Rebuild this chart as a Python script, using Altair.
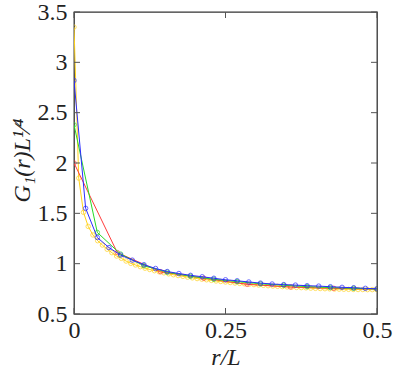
import altair as alt
import pandas as pd

# System sizes and the correlation G1(r) L^{1/4} sampled at r = 0 .. L/2
sizes = [14, 26, 52, 128]
series_names = ["L=14", "L=26", "L=52", "L=128"]
series_colors = ["#ff3b3b", "#27d827", "#2b2bff", "#ffd21a"]

g_L14 = [2.00, 1.11, 0.92, 0.855, 0.795, 0.768, 0.755, 0.748]

g_L26 = [2.38, 1.31, 1.095, 0.98, 0.915, 0.875, 0.845, 0.822, 0.800,
         0.785, 0.772, 0.762, 0.755, 0.748]

g_L52 = [2.82, 1.55, 1.26, 1.16, 1.085, 1.035, 0.99, 0.952, 0.922, 0.902,
         0.884, 0.870, 0.855, 0.840, 0.830, 0.818, 0.807, 0.798, 0.792,
         0.787, 0.781, 0.777, 0.771, 0.765, 0.761, 0.755, 0.750]

g_L128 = [3.35, 1.85, 1.51, 1.37, 1.285, 1.228, 1.185, 1.143, 1.109, 1.076,
          1.053, 1.026, 1.003, 0.987, 0.970, 0.955, 0.942, 0.930, 0.919,
          0.909, 0.899, 0.890, 0.882, 0.874, 0.866, 0.859, 0.852, 0.846,
          0.840, 0.834, 0.828, 0.823, 0.818, 0.813, 0.808, 0.804, 0.800,
          0.796, 0.792, 0.788, 0.785, 0.781, 0.778, 0.775, 0.772, 0.769,
          0.767, 0.764, 0.762, 0.760, 0.757, 0.755, 0.753, 0.751, 0.750,
          0.748, 0.747, 0.746, 0.745, 0.744, 0.743, 0.743, 0.742, 0.742,
          0.741]

x_ticks = [0, 0.25, 0.5]
y_ticks = [0.5, 1, 1.5, 2, 2.5, 3, 3.5]

W, H = 303, 302
FONT = "Liberation Serif"
TICK_LEN = 6

x_scale = alt.Scale(domain=[0, 0.5], nice=False, zero=False)
y_scale = alt.Scale(domain=[0.5, 3.5], nice=False, zero=False)

x_axis = alt.Axis(values=x_ticks, labelExpr="toString(datum.value)",
                  labelPadding=4,
                  title="r/L", titleBaseline="alphabetic", titleY=50)
y_axis = alt.Axis(values=y_ticks, labelExpr="toString(datum.value)",
                  labelPadding=7,
                  title="G₁(r)L¹⁄⁴", titleAngle=270,
                  titleBaseline="alphabetic", titleAlign="center",
                  titleX=-45, titleY=148)

layers = []
# largest system first so the smaller ones sit on top of its dense markers
order = [3, 0, 1, 2]
all_values = [g_L14, g_L26, g_L52, g_L128]
for k in order:
    L = sizes[k]
    vals = all_values[k]
    df = pd.DataFrame({"x": [r / L for r in range(len(vals))], "y": vals})
    base = alt.Chart(df).encode(
        x=alt.X("x:Q", scale=x_scale, axis=x_axis),
        y=alt.Y("y:Q", scale=y_scale, axis=y_axis),
    )
    line = base.mark_line(color=series_colors[k], strokeWidth=1, clip=True)
    pts = base.mark_point(shape="circle", filled=False, size=20,
                          color=series_colors[k], strokeWidth=1, clip=True)
    layers += [line, pts]

# inward tick marks on all four sides of the frame
xt = pd.DataFrame({"x": x_ticks})
yt = pd.DataFrame({"y": y_ticks})
tick_color = "#555"
ticks_bottom = alt.Chart(xt).mark_rule(color=tick_color, strokeWidth=1).encode(
    x=alt.X("x:Q", scale=x_scale, axis=x_axis), y=alt.value(H), y2=alt.value(H - TICK_LEN))
ticks_top = alt.Chart(xt).mark_rule(color=tick_color, strokeWidth=1).encode(
    x=alt.X("x:Q", scale=x_scale, axis=x_axis), y=alt.value(0), y2=alt.value(TICK_LEN))
ticks_left = alt.Chart(yt).mark_rule(color=tick_color, strokeWidth=1).encode(
    y=alt.Y("y:Q", scale=y_scale, axis=y_axis), x=alt.value(0), x2=alt.value(TICK_LEN))
ticks_right = alt.Chart(yt).mark_rule(color=tick_color, strokeWidth=1).encode(
    y=alt.Y("y:Q", scale=y_scale, axis=y_axis), x=alt.value(W), x2=alt.value(W - TICK_LEN))

chart = alt.layer(*layers, ticks_bottom, ticks_top, ticks_left, ticks_right).properties(
    width=W, height=H,
    autosize=alt.AutoSizeParams(type="none"),
    padding={"left": 74, "top": 12, "right": 30, "bottom": 59},
    background="white",
).configure_view(
    stroke="#333", strokeWidth=1.3
).configure_axis(
    ticks=False, domain=False, grid=False, labelFlush=False,
    labelFont=FONT, labelFontSize=24, labelColor="#222",
    titleFont=FONT, titleFontSize=24, titleFontStyle="italic",
    titleFontWeight="normal", titleColor="#222",
)

chart.save("out.html", embed_options={"renderer": "svg", "actions": False})
